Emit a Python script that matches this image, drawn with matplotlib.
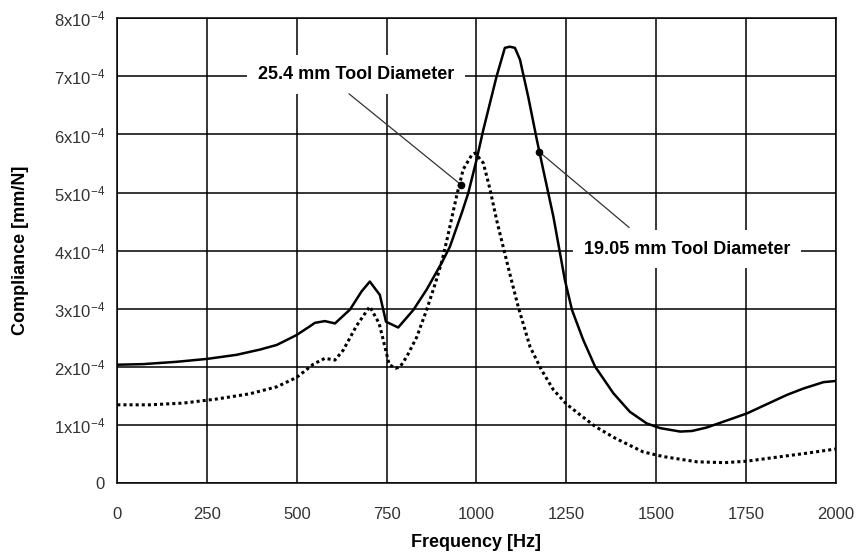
import matplotlib
matplotlib.use("Agg")
import matplotlib.pyplot as plt
import numpy as np

plt.rcParams['font.family'] = ['Liberation Sans', 'DejaVu Sans']
plt.rcParams['mathtext.default'] = 'regular'

# Solid curve (19.05 mm tool diameter), compliance in units of 1e-4 mm/N
solid_f = [0, 72, 165, 250, 332, 397, 444, 499, 536, 550, 578, 606, 648, 680, 703,
           731, 748, 782, 824, 861, 903, 926, 959, 977, 1000, 1019, 1056, 1079, 1093,
           1107, 1121, 1144, 1168, 1186, 1214, 1246, 1266, 1297, 1330, 1381, 1427,
           1474, 1511, 1567, 1600, 1641, 1706, 1752, 1808, 1864, 1910, 1966, 2000]
solid_c = [2.04, 2.05, 2.09, 2.14, 2.21, 2.30, 2.38, 2.55, 2.70, 2.76, 2.79, 2.75, 2.99, 3.30, 3.47,
           3.24, 2.78, 2.68, 2.98, 3.33, 3.79, 4.07, 4.65, 4.99, 5.56, 6.08, 7.00, 7.49, 7.51,
           7.49, 7.29, 6.65, 5.91, 5.39, 4.59, 3.50, 2.98, 2.47, 2.01, 1.55, 1.23,
           1.03, 0.95, 0.89, 0.90, 0.96, 1.10, 1.20, 1.36, 1.52, 1.63, 1.74, 1.76]

# Dotted curve (25.4 mm tool diameter)
dot_f = [0, 91, 184, 277, 369, 444, 499, 546, 578, 606, 629, 666, 703, 729, 745, 757,
         775, 787, 806, 834, 861, 886, 905, 920, 945, 963, 987, 996, 1019, 1038, 1056,
         1077, 1093, 1116, 1149, 1181, 1214, 1251, 1288, 1330, 1385, 1464, 1520, 1613,
         1690, 1752, 1836, 1910, 2000]
dot_c = [1.35, 1.35, 1.38, 1.45, 1.54, 1.66, 1.82, 2.05, 2.15, 2.12, 2.29, 2.71, 3.04, 2.75, 2.35, 2.04,
         1.98, 2.00, 2.18, 2.52, 2.98, 3.45, 3.85, 4.25, 4.95, 5.40, 5.65, 5.68, 5.51, 5.05, 4.53,
         4.00, 3.60, 3.04, 2.35, 1.95, 1.61, 1.36, 1.18, 0.98, 0.78, 0.54, 0.46, 0.37,
         0.355, 0.38, 0.45, 0.51, 0.59]

x_ticks = [0, 250, 500, 750, 1000, 1250, 1500, 1750, 2000]
y_ticks = [0, 1, 2, 3, 4, 5, 6, 7, 8]
y_labels = ['0'] + [f'{k}x10$^{{-4}}$' for k in range(1, 9)]

# Annotations: (label, text position, leader start, point on curve)
ann1_label = '25.4 mm Tool Diameter'
ann1_text = (664, 7.03)
ann1_start = (645, 6.70)
ann1_point = (958, 5.13)
ann2_label = '19.05 mm Tool Diameter'
ann2_text = (1586, 4.03)
ann2_start = (1425, 4.40)
ann2_point = (1175, 5.70)

fig = plt.figure(figsize=(8.6, 5.57), dpi=100)
ax = fig.add_axes([0.1364, 0.1323, 0.9717 - 0.1364, 0.9673 - 0.1323])

y_scale = 1e-4
ax.plot(solid_f, np.array(solid_c) * y_scale, color='black', lw=1.8, zorder=4)
ax.plot(dot_f, np.array(dot_c) * y_scale, color='black', lw=2.2,
        linestyle=(0, (1, 1)), zorder=4)

ax.set_xlim(0, 2000)
ax.set_ylim(0, 8 * y_scale)
ax.set_xticks(x_ticks)
ax.set_yticks(np.array(y_ticks) * y_scale)
ax.set_yticklabels(y_labels)
ax.tick_params(length=0, labelsize=12, labelcolor='#333333')
ax.tick_params(axis='x', pad=17)
ax.tick_params(axis='y', pad=9)
ax.grid(True, color='black', lw=1.1, zorder=1)
ax.set_axisbelow(True)
for s in ax.spines.values():
    s.set_color('black')
    s.set_linewidth(1.1)

ax.set_xlabel('Frequency [Hz]', fontsize=13, fontweight='bold', va='center')
ax.set_ylabel('Compliance [mm/N]', fontsize=13, fontweight='bold', va='center')
ax.xaxis.set_label_coords(0.5, -0.128)
ax.yaxis.set_label_coords(-0.1354, 0.5)

for label, tpos, spos, ppos in [(ann1_label, ann1_text, ann1_start, ann1_point),
                                (ann2_label, ann2_text, ann2_start, ann2_point)]:
    ax.text(tpos[0], tpos[1] * y_scale, label, fontsize=13, fontweight='bold',
            ha='center', va='center', zorder=3,
            bbox=dict(boxstyle='square,pad=0.6', fc='white', ec='none'))
    ax.annotate('', xy=(ppos[0], ppos[1] * y_scale), xytext=(spos[0], spos[1] * y_scale),
                arrowprops=dict(arrowstyle='-', color='#333333', lw=0.9,
                                shrinkA=0, shrinkB=0), zorder=5)
    ax.plot([ppos[0]], [ppos[1] * y_scale], 'o', color='black', ms=4.5, zorder=6)

fig.savefig('out.png', dpi=100)
